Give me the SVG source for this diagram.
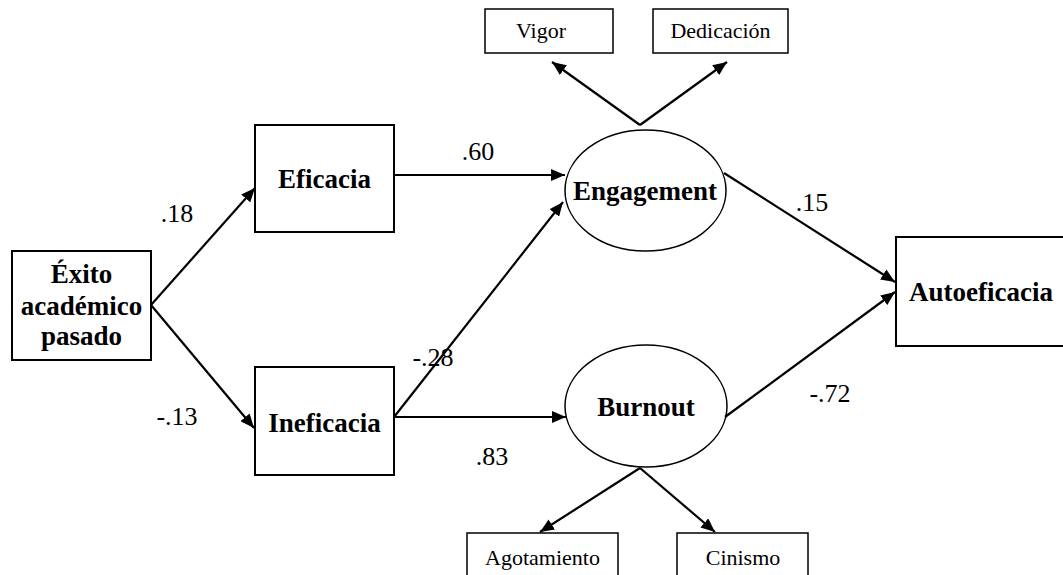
<svg xmlns="http://www.w3.org/2000/svg" width="1063" height="575" viewBox="0 0 1063 575">
<style>
.box{fill:#fff;stroke:#000;stroke-width:2}
.sbox{fill:#fff;stroke:#000;stroke-width:1.5}
.ell{fill:#fff;stroke:#000;stroke-width:1.5}
.big{font-family:"Liberation Serif","Times New Roman",serif;font-weight:bold;font-size:27px;text-anchor:middle}
.small{font-family:"Liberation Serif","Times New Roman",serif;font-size:22px;text-anchor:middle}
.num{font-family:"Liberation Serif","Times New Roman",serif;font-size:26px;text-anchor:middle}
.con{stroke:#000;stroke-width:2.2;fill:none;marker-end:url(#ah)}
</style>
<defs>
<marker id="ah" viewBox="0 0 14 12" refX="14" refY="6" markerWidth="14" markerHeight="12" markerUnits="userSpaceOnUse" orient="auto">
<path d="M0,0 L14,6 L0,12 z" fill="#000"/>
</marker>
</defs>
<g id="n-exito"><rect class="box" x="12" y="251" width="139" height="109"/>
<text class="big" x="81.5" y="283">Éxito</text><text class="big" x="81.5" y="315">académico</text><text class="big" x="81.5" y="345">pasado</text></g>
<g id="n-eficacia"><rect class="box" x="255" y="125" width="139" height="107"/><text class="big" x="324.5" y="188">Eficacia</text></g>
<g id="n-ineficacia"><rect class="box" x="255" y="367" width="139" height="108"/><text class="big" x="324.5" y="432">Ineficacia</text></g>
<g id="n-engagement"><ellipse class="ell" cx="645.5" cy="190.5" rx="80.5" ry="60.5"/><text class="big" x="645" y="200">Engagement</text></g>
<g id="n-burnout"><ellipse class="ell" cx="646" cy="406" rx="81" ry="61"/><text class="big" x="646" y="416">Burnout</text></g>
<g id="n-autoeficacia"><rect class="box" x="896" y="237" width="168" height="109"/><text class="big" x="981" y="301">Autoeficacia</text></g>
<g id="n-vigor"><rect class="sbox" x="485" y="9" width="128" height="44"/><text class="small" x="541" y="38">Vigor</text></g>
<g id="n-dedicacion"><rect class="sbox" x="653" y="9" width="135" height="44"/><text class="small" x="720.5" y="38">Dedicación</text></g>
<g id="n-agotamiento"><rect class="sbox" x="467" y="533" width="151" height="50"/><text class="small" x="542.5" y="565">Agotamiento</text></g>
<g id="n-cinismo"><rect class="sbox" x="677" y="533" width="131" height="50"/><text class="small" x="743" y="565">Cinismo</text></g>
<g id="connectors">
<line class="con" x1="151" y1="305" x2="255" y2="188"/>
<line class="con" x1="151" y1="305" x2="254" y2="428"/>
<line class="con" x1="394" y1="175" x2="565" y2="175"/>
<line class="con" x1="394" y1="417" x2="563" y2="202"/>
<line class="con" x1="394" y1="417" x2="566" y2="417"/>
<line class="con" x1="724" y1="173" x2="895" y2="282"/>
<line class="con" x1="725" y1="417" x2="895" y2="292"/>
<line class="con" x1="640" y1="125" x2="552" y2="62"/>
<line class="con" x1="640" y1="125" x2="727" y2="62"/>
<line class="con" x1="640" y1="468" x2="540" y2="532"/>
<line class="con" x1="640" y1="468" x2="715" y2="532"/>
</g>
<g id="labels">
<text class="num" x="478" y="160">.60</text>
<text class="num" x="177" y="222">.18</text>
<text class="num" x="177" y="425">-.13</text>
<text class="num" x="433" y="366">-.28</text>
<text class="num" x="492" y="465">.83</text>
<text class="num" x="812" y="211">.15</text>
<text class="num" x="830" y="402">-.72</text>
</g>
</svg>
